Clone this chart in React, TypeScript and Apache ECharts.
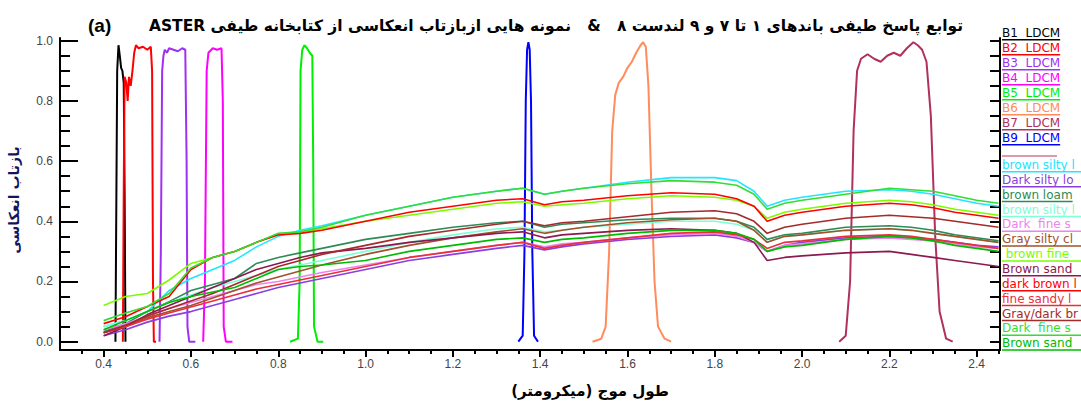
import React, { useEffect, useRef } from "react";
import * as echarts from "echarts";

// ---------- DATA ----------
const titleText = "توابع پاسخ طیفی باندهای ۱ تا ۷ و ۹ لندست ۸   &   نمونه هایی ازبازتاب انعکاسی از کتابخانه طیفی ASTER";
const panelLabel = "(a)";
const xAxisTitle = "طول موج (میکرومتر)";
const yAxisTitle = "بازتاب انعکاسی";

const xMajorTicks = [0.4, 0.6, 0.8, 1.0, 1.2, 1.4, 1.6, 1.8, 2.0, 2.2, 2.4];
const xMinorTicks = [0.35, 0.45, 0.5, 0.55, 0.65, 0.7, 0.75, 0.85, 0.9, 0.95, 1.05, 1.1, 1.15, 1.25, 1.3, 1.35, 1.45, 1.5, 1.55, 1.65, 1.7, 1.75, 1.85, 1.9, 1.95, 2.05, 2.1, 2.15, 2.25, 2.3, 2.35, 2.45];
const yMajorTicks = [0, 0.2, 0.4, 0.6, 0.8, 1.0];
const yMinorTicks = [0.05, 0.1, 0.15, 0.25, 0.3, 0.35, 0.45, 0.5, 0.55, 0.65, 0.7, 0.75, 0.85, 0.9, 0.95];
const yAllTicks = [0, 0.05, 0.1, 0.15, 0.2, 0.25, 0.3, 0.35, 0.4, 0.45, 0.5, 0.55, 0.6, 0.65, 0.7, 0.75, 0.8, 0.85, 0.9, 0.95, 1.0];

// Landsat 8 band spectral response functions [wavelength, response]
const bandNames = ["B1  LDCM", "B2  LDCM", "B3  LDCM", "B4  LDCM", "B5  LDCM", "B6  LDCM", "B7  LDCM", "B9  LDCM"];
const bandColors = ["#000000", "#ff0000", "#a030f0", "#ff00ff", "#00ee00", "#ff8c5a", "#b03060", "#0000ff"];
const bandB1 = [[0.427, 0], [0.429, 0.45], [0.431, 0.9], [0.434, 0.985], [0.437, 0.95], [0.44, 0.91], [0.443, 0.9], [0.446, 0.86], [0.448, 0.5], [0.45, 0]];
const bandB2 = [[0.444, 0], [0.446, 0.5], [0.448, 0.88], [0.452, 0.86], [0.455, 0.8], [0.458, 0.88], [0.462, 0.85], [0.466, 0.9], [0.47, 0.96], [0.474, 0.985], [0.48, 0.975], [0.49, 0.98], [0.5, 0.97], [0.508, 0.98], [0.511, 0.9], [0.513, 0.2], [0.515, 0], [0.52, 0]];
const bandB3 = [[0.528, 0], [0.531, 0.3], [0.534, 0.9], [0.537, 0.95], [0.54, 0.97], [0.545, 0.96], [0.55, 0.975], [0.56, 0.97], [0.57, 0.965], [0.58, 0.975], [0.587, 0.97], [0.59, 0.6], [0.592, 0.05], [0.596, 0], [0.61, 0]];
const bandB4 = [[0.628, 0], [0.632, 0.2], [0.636, 0.9], [0.64, 0.96], [0.65, 0.975], [0.66, 0.97], [0.67, 0.975], [0.673, 0.8], [0.675, 0.05], [0.68, 0], [0.695, 0]];
const bandB5 = [[0.827, 0], [0.845, 0.01], [0.849, 0.2], [0.851, 0.9], [0.855, 0.97], [0.86, 0.985], [0.866, 0.975], [0.872, 0.96], [0.878, 0.95], [0.88, 0.6], [0.882, 0.05], [0.89, 0], [0.903, 0]];
const bandB6 = [[1.52, 0], [1.54, 0.01], [1.55, 0.05], [1.558, 0.3], [1.565, 0.7], [1.572, 0.82], [1.58, 0.86], [1.59, 0.88], [1.6, 0.91], [1.61, 0.93], [1.62, 0.96], [1.63, 0.985], [1.636, 0.995], [1.642, 0.98], [1.648, 0.85], [1.655, 0.5], [1.662, 0.2], [1.67, 0.05], [1.685, 0.01], [1.7, 0]];
const bandB7 = [[2.085, 0], [2.1, 0.02], [2.11, 0.2], [2.118, 0.7], [2.126, 0.9], [2.135, 0.94], [2.15, 0.955], [2.165, 0.94], [2.18, 0.93], [2.195, 0.95], [2.21, 0.96], [2.225, 0.95], [2.24, 0.975], [2.255, 0.995], [2.265, 0.985], [2.275, 0.97], [2.285, 0.93], [2.295, 0.75], [2.305, 0.35], [2.315, 0.1], [2.33, 0.01], [2.345, 0]];
const bandB9 = [[1.35, 0], [1.36, 0.02], [1.364, 0.3], [1.367, 0.8], [1.37, 0.97], [1.373, 0.995], [1.376, 0.97], [1.379, 0.8], [1.382, 0.3], [1.386, 0.02], [1.395, 0]];
const bandData = [bandB1, bandB2, bandB3, bandB4, bandB5, bandB6, bandB7, bandB9];

// ASTER spectral library soil samples
const wavelengths = [0.40, 0.45, 0.50, 0.55, 0.60, 0.65, 0.70, 0.75, 0.80, 0.85, 0.90, 1.00, 1.10, 1.20, 1.30, 1.36, 1.41, 1.45, 1.50, 1.60, 1.70, 1.80, 1.85, 1.89, 1.92, 1.96, 2.00, 2.10, 2.20, 2.25, 2.30, 2.35, 2.40, 2.45];
const soilNames = ["brown silty loam", "Dark silty loam", "brown loam", "brown silty loam", "Dark  fine sandy loam", "Gray silty clay", " brown fine sandy loam", "Brown sandy loam", "dark brown loam", "fine sandy loam", "Gray/dark brown loam", "Dark  fine sandy loam", "Brown sandy loam"];
const soilColors = ["#22e5ff", "#8a3fe0", "#2e8b57", "#7fffd4", "#ee82ee", "#a0522d", "#7cfc00", "#8b1a50", "#ff0000", "#e8303a", "#a52a2a", "#33dd33", "#00bb00"];
const soilBrownSiltyLoamA = [0.05, 0.07, 0.10, 0.17, 0.21, 0.24, 0.27, 0.315, 0.35, 0.37, 0.385, 0.42, 0.45, 0.48, 0.50, 0.51, 0.49, 0.50, 0.51, 0.53, 0.545, 0.545, 0.535, 0.50, 0.45, 0.47, 0.48, 0.50, 0.505, 0.50, 0.49, 0.475, 0.46, 0.45];
const soilDarkSiltyLoam = [0.02, 0.04, 0.065, 0.085, 0.10, 0.12, 0.14, 0.16, 0.18, 0.195, 0.21, 0.24, 0.27, 0.29, 0.31, 0.32, 0.305, 0.315, 0.325, 0.34, 0.35, 0.355, 0.345, 0.33, 0.30, 0.32, 0.33, 0.345, 0.35, 0.345, 0.34, 0.33, 0.32, 0.315];
const soilBrownLoam = [0.033, 0.06, 0.10, 0.133, 0.17, 0.19, 0.21, 0.26, 0.28, 0.295, 0.31, 0.34, 0.36, 0.38, 0.395, 0.40, 0.38, 0.39, 0.395, 0.405, 0.41, 0.41, 0.40, 0.38, 0.34, 0.355, 0.36, 0.38, 0.385, 0.38, 0.37, 0.355, 0.345, 0.335];
const soilBrownSiltyLoamB = [0.05, 0.07, 0.10, 0.13, 0.155, 0.18, 0.20, 0.22, 0.24, 0.255, 0.27, 0.30, 0.33, 0.355, 0.375, 0.38, 0.365, 0.37, 0.38, 0.39, 0.40, 0.40, 0.39, 0.37, 0.33, 0.35, 0.355, 0.37, 0.375, 0.37, 0.36, 0.35, 0.34, 0.33];
const soilDarkFineSandyLoamA = [0.04, 0.06, 0.085, 0.11, 0.13, 0.15, 0.17, 0.19, 0.20, 0.215, 0.23, 0.255, 0.28, 0.30, 0.32, 0.33, 0.315, 0.325, 0.33, 0.345, 0.355, 0.36, 0.35, 0.33, 0.30, 0.32, 0.325, 0.34, 0.345, 0.34, 0.335, 0.325, 0.315, 0.31];
const soilGraySiltyClay = [0.03, 0.05, 0.08, 0.10, 0.12, 0.145, 0.17, 0.195, 0.215, 0.235, 0.255, 0.29, 0.32, 0.345, 0.365, 0.375, 0.36, 0.37, 0.38, 0.395, 0.405, 0.41, 0.40, 0.37, 0.33, 0.35, 0.355, 0.37, 0.375, 0.37, 0.36, 0.35, 0.34, 0.33];
const soilBrownFineSandyLoam = [0.12, 0.15, 0.16, 0.205, 0.26, 0.28, 0.30, 0.33, 0.355, 0.365, 0.375, 0.40, 0.42, 0.44, 0.46, 0.465, 0.45, 0.455, 0.46, 0.475, 0.485, 0.48, 0.47, 0.45, 0.41, 0.43, 0.44, 0.46, 0.47, 0.465, 0.455, 0.44, 0.43, 0.42];
const soilBrownSandyLoamA = [0.02, 0.05, 0.09, 0.12, 0.15, 0.18, 0.21, 0.24, 0.26, 0.28, 0.295, 0.31, 0.33, 0.345, 0.36, 0.365, 0.345, 0.355, 0.36, 0.37, 0.375, 0.37, 0.36, 0.33, 0.27, 0.28, 0.285, 0.295, 0.30, 0.29, 0.28, 0.27, 0.26, 0.25];
const soilDarkBrownLoam = [0.06, 0.083, 0.117, 0.15, 0.24, 0.28, 0.30, 0.33, 0.355, 0.36, 0.37, 0.40, 0.43, 0.45, 0.47, 0.475, 0.455, 0.465, 0.47, 0.485, 0.495, 0.49, 0.475, 0.45, 0.40, 0.42, 0.43, 0.45, 0.46, 0.455, 0.445, 0.43, 0.42, 0.41];
const soilFineSandyLoam = [0.03, 0.05, 0.075, 0.095, 0.115, 0.135, 0.155, 0.175, 0.19, 0.205, 0.22, 0.25, 0.28, 0.30, 0.32, 0.33, 0.31, 0.32, 0.33, 0.345, 0.36, 0.365, 0.355, 0.34, 0.31, 0.33, 0.335, 0.35, 0.355, 0.35, 0.34, 0.33, 0.32, 0.31];
const soilGrayDarkBrownLoam = [0.03, 0.055, 0.085, 0.11, 0.135, 0.16, 0.19, 0.22, 0.25, 0.27, 0.29, 0.32, 0.35, 0.37, 0.39, 0.40, 0.385, 0.395, 0.40, 0.415, 0.43, 0.435, 0.425, 0.40, 0.36, 0.38, 0.39, 0.41, 0.42, 0.415, 0.41, 0.40, 0.39, 0.38];
const soilDarkFineSandyLoamB = [0.07, 0.095, 0.117, 0.16, 0.245, 0.28, 0.30, 0.33, 0.36, 0.365, 0.38, 0.42, 0.45, 0.48, 0.50, 0.51, 0.49, 0.50, 0.51, 0.525, 0.535, 0.53, 0.52, 0.49, 0.44, 0.46, 0.47, 0.49, 0.51, 0.505, 0.50, 0.485, 0.47, 0.46];
const soilBrownSandyLoamB = [0.04, 0.07, 0.10, 0.13, 0.15, 0.165, 0.18, 0.21, 0.24, 0.25, 0.255, 0.27, 0.30, 0.32, 0.34, 0.345, 0.33, 0.34, 0.345, 0.36, 0.37, 0.37, 0.36, 0.34, 0.30, 0.315, 0.32, 0.34, 0.35, 0.345, 0.335, 0.32, 0.31, 0.30];
const soilData = [soilBrownSiltyLoamA, soilDarkSiltyLoam, soilBrownLoam, soilBrownSiltyLoamB, soilDarkFineSandyLoamA, soilGraySiltyClay, soilBrownFineSandyLoam, soilBrownSandyLoamA, soilDarkBrownLoam, soilFineSandyLoam, soilGrayDarkBrownLoam, soilDarkFineSandyLoamB, soilBrownSandyLoamB];
const legendSeparatorColor = "#d07890";

// ---------- CHART ----------
const rtl = (s: string) => "\u202B" + s + "\u202C";
const LEGEND_FONT = '12px "DejaVu Sans"';

export default function App() {
  const ref = useRef<HTMLDivElement>(null);
  useEffect(() => {
    document.body.style.margin = "0";
    if (!ref.current) return;
    const chart = echarts.init(ref.current, null, { renderer: "svg" });

    const ctx = document.createElement("canvas").getContext("2d")!;
    ctx.font = LEGEND_FONT;
    const tw = (s: string) => ctx.measureText(s).width;

    const xMin = 0.3, xMax = 2.4534, yMin = -0.0276, yMax = 1.009;
    const axisCommon = { type: "value" as const, splitLine: { show: false } };

    const series: any[] = [];
    bandData.forEach((d, i) => {
      series.push({
        type: "line", name: bandNames[i], data: d, showSymbol: false, symbol: "none",
        lineStyle: { color: bandColors[i], width: 2 }, z: 2, xAxisIndex: 0, yAxisIndex: 0,
      });
    });
    soilData.forEach((d, i) => {
      series.push({
        type: "line", name: soilNames[i], data: d.map((v, k) => [wavelengths[k], v]),
        showSymbol: false, symbol: "none",
        lineStyle: { color: soilColors[i], width: 1.6 }, z: 3, xAxisIndex: 0, yAxisIndex: 0,
      });
    });

    const graphics: any[] = [];
    graphics.push({ type: "text", x: 88, y: 25, style: { text: panelLabel, font: 'bold 19px "Liberation Sans"', fill: "#000", verticalAlign: "middle" } });
    graphics.push({ type: "text", x: 556, y: 26, style: { text: rtl(titleText), font: 'bold 15.5px "DejaVu Sans"', fill: "#000", align: "center", verticalAlign: "middle" } });
    graphics.push({ type: "text", x: 590, y: 391, style: { text: rtl(xAxisTitle), font: 'bold 15px "DejaVu Sans"', fill: "#000", align: "center", verticalAlign: "middle" } });
    graphics.push({ type: "text", x: 14, y: 200, rotation: Math.PI / 2, style: { text: rtl(yAxisTitle), font: 'bold 14px "DejaVu Sans"', fill: "#141460", align: "center", verticalAlign: "middle" } });

    const lx = 1002;
    const visibleW = 1080 - lx;
    bandNames.forEach((n, i) => {
      const y = 33.3 + i * 15;
      graphics.push({ type: "text", x: lx, y, style: { text: n, font: LEGEND_FONT, fill: bandColors[i], verticalAlign: "middle" } });
      graphics.push({ type: "line", shape: { x1: lx, y1: y + 6.5, x2: lx + tw(n), y2: y + 6.5 }, style: { stroke: bandColors[i], lineWidth: 1.5 } });
    });
    graphics.push({ type: "line", shape: { x1: lx, y1: 156, x2: lx + 55, y2: 156 }, style: { stroke: legendSeparatorColor, lineWidth: 1.5 } });
    soilNames.forEach((n, i) => {
      const y = 165 + i * 14.86;
      graphics.push({ type: "text", x: lx, y, style: { text: n, font: LEGEND_FONT, fill: soilColors[i], verticalAlign: "middle", width: visibleW, overflow: "truncate", ellipsis: "" } });
      graphics.push({ type: "line", shape: { x1: lx, y1: y + 6.8, x2: lx + tw(n), y2: y + 6.8 }, style: { stroke: soilColors[i], lineWidth: 1.5 } });
    });

    const option: any = {
      animation: false,
      backgroundColor: "#ffffff",
      grid: { left: 60, right: 81, top: 38, bottom: 53, containLabel: false },
      xAxis: [
        {
          ...axisCommon, min: xMin, max: xMax, position: "bottom", offset: 0,
          axisLine: { show: true, onZero: false, lineStyle: { color: "#000", width: 2 } },
          axisTick: { show: true, inside: false, length: 7, customValues: xMajorTicks, lineStyle: { color: "#000", width: 2 } },
          axisLabel: { show: true, customValues: xMajorTicks, formatter: (v: number) => v.toFixed(1), color: "#444", fontSize: 12, fontFamily: "Liberation Sans", margin: 8 },
        },
        {
          ...axisCommon, min: xMin, max: xMax, position: "bottom", offset: 0,
          axisLine: { show: false, onZero: false },
          axisTick: { show: true, inside: false, length: 4, customValues: xMinorTicks, lineStyle: { color: "#000", width: 2 } },
          axisLabel: { show: false },
        },
      ],
      yAxis: [
        {
          ...axisCommon, min: yMin, max: yMax, position: "left", offset: 0,
          axisLine: { show: true, onZero: false, lineStyle: { color: "#000", width: 2 } },
          axisTick: { show: true, inside: true, length: 18, customValues: yMajorTicks, lineStyle: { color: "#000", width: 2 } },
          axisLabel: { show: true, customValues: yMajorTicks, formatter: (v: number) => v.toFixed(1), color: "#444", fontSize: 12, fontFamily: "Liberation Sans", margin: 7 },
        },
        {
          ...axisCommon, min: yMin, max: yMax, position: "left", offset: 0,
          axisLine: { show: false, onZero: false },
          axisTick: { show: true, inside: true, length: 10, customValues: yMinorTicks, lineStyle: { color: "#000", width: 2 } },
          axisLabel: { show: false },
        },
        {
          ...axisCommon, min: yMin, max: yMax, position: "right", offset: 0,
          axisLine: { show: true, onZero: false, lineStyle: { color: "#000", width: 2 } },
          axisTick: { show: true, inside: true, length: 10, customValues: yAllTicks, lineStyle: { color: "#000", width: 2 } },
          axisLabel: { show: false },
        },
      ],
      series,
      graphic: graphics,
    };
    chart.setOption(option);
    return () => chart.dispose();
  }, []);
  return <div ref={ref} style={{ width: 1081, height: 403 }} />;
}
